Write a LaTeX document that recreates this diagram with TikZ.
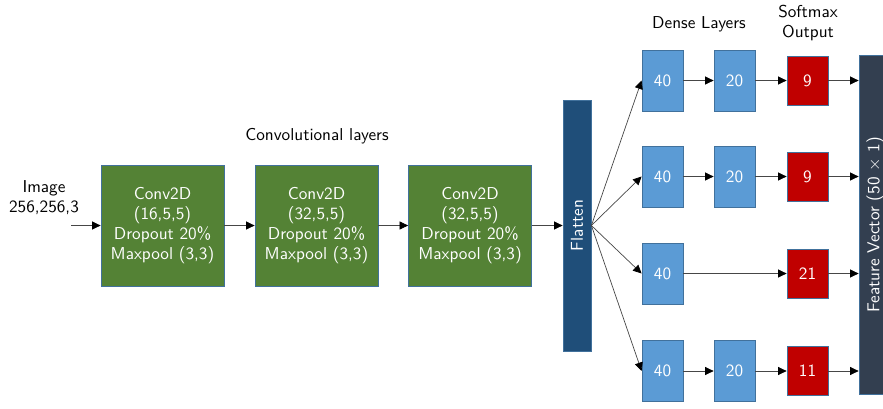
\documentclass[tikz,border=0pt]{standalone}
\usepackage{fontspec}
\setsansfont{lmsans10-regular.otf}
\usetikzlibrary{arrows.meta}
\definecolor{convgreen}{RGB}{84,130,53}
\definecolor{densblue}{RGB}{91,155,213}
\definecolor{softred}{RGB}{192,0,0}
\definecolor{flatblue}{RGB}{31,78,121}
\definecolor{featslate}{RGB}{51,63,80}
\definecolor{edgeblue}{RGB}{65,113,156}
\definecolor{wire}{RGB}{70,70,70}
\begin{document}
\begin{tikzpicture}[x=1pt,y=-1pt,
  every node/.style={font=\sffamily\fontsize{17.2}{20}\selectfont},
  blk/.style={draw=edgeblue,line width=0.8pt,text=white,inner sep=0pt,align=center},
  convbox/.style={blk,fill=convgreen,minimum width=123pt,minimum height=121pt},
  densebox/.style={blk,fill=densblue,minimum width=41pt,minimum height=61pt},
  outbox/.style={blk,fill=softred,minimum width=41pt,minimum height=49pt},
  lbl/.style={align=center,text=black,inner sep=0pt},
  conn/.style={draw=wire,line width=0.7pt,-{Triangle[length=8.5pt,width=8pt,color=black]}}]
\useasboundingbox (0,0) rectangle (883,408);

% input
\node[lbl] (img) at (44,198) {Image\\256,256,3};
\coordinate (in) at (71,225.5);

% convolutional stack
\node[lbl] (convlbl) at (317,136) {Convolutional layers};
\node[convbox] (c1) at (162.5,225.5) {Conv2D\\(16,5,5)\\Dropout 20\%\\Maxpool (3,3)};
\node[convbox] (c2) at (316.5,225.5) {Conv2D\\(32,5,5)\\Dropout 20\%\\Maxpool (3,3)};
\node[convbox] (c3) at (470,225.5) {Conv2D\\(32,5,5)\\Dropout 20\%\\Maxpool (3,3)};

% flatten
\node[blk,fill=flatblue,minimum width=28pt,minimum height=251pt] (flat) at (577,225.5) {};
\node[text=white,rotate=90,inner sep=0pt] (flattxt) at (flat.center) {Flatten};

% dense heads
\node[lbl] (denselbl) at (699,24) {Dense Layers};
\node[lbl] (softlbl) at (808,23) {Softmax\\Output};

\node[densebox] (a1) at (662.5,80.5) {40};
\node[densebox] (b1) at (734.5,80.5) {20};
\node[outbox]   (r1) at (807.5,80.5) {9};

\node[densebox] (a2) at (662.5,176.5) {40};
\node[densebox] (b2) at (734.5,176.5) {20};
\node[outbox]   (r2) at (807.5,176.5) {9};

\node[densebox] (a3) at (662.5,273.5) {40};
\node[outbox]   (r3) at (807.5,273.5) {21};

\node[densebox] (a4) at (662.5,371) {40};
\node[densebox] (b4) at (734.5,371) {20};
\node[outbox]   (r4) at (807.5,371) {11};

% feature vector (runs past the right edge)
\node[blk,fill=featslate,minimum width=32pt,minimum height=339pt] (fv) at (875,225) {};
\node[text=white,rotate=90,inner sep=0pt] (fvtxt) at (fv.center) {Feature Vector (50 $\times$ 1)};

% connectors
\draw[conn] (in) -- (c1.west);
\draw[conn] (c1) -- (c2);
\draw[conn] (c2) -- (c3);
\draw[conn] (c3) -- (flat);
\foreach \n in {a1,a2,a3,a4}
  \draw[conn] (flat.east) -- (\n.west);
\draw[conn] (a1) -- (b1);
\draw[conn] (b1) -- (r1);
\draw[conn] (a2) -- (b2);
\draw[conn] (b2) -- (r2);
\draw[conn] (a3) -- (r3);
\draw[conn] (a4) -- (b4);
\draw[conn] (b4) -- (r4);
\foreach \n in {r1,r2,r3,r4}
  \draw[conn] (\n.east) -- (\n.east -| fv.west);
\end{tikzpicture}
\end{document}
